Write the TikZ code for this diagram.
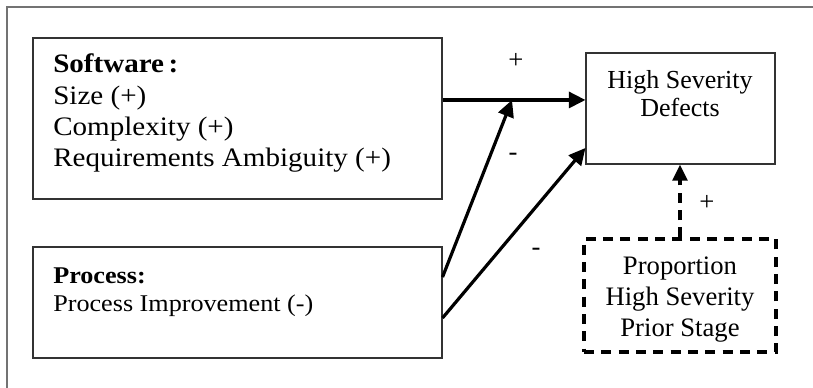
\documentclass[tikz,border=0pt]{standalone}
\usepackage{fontspec}
\setmainfont{Liberation Serif}
\newfontfamily\widefont{Liberation Serif}[FakeStretch=1.09]
\usetikzlibrary{arrows.meta,calc}

\tikzset{
  box/.style={draw=black!80, line width=0.8pt, rectangle, inner sep=0pt},
  dashbox/.style={draw=black, line width=2.4pt, dash pattern=on 7.5pt off 5.5pt, rectangle, inner sep=0pt},
  link/.style={line width=2.4pt, -{Triangle[length=12.5pt, width=12pt]}},
  dashlink/.style={line width=2.4pt, dash pattern=on 7.5pt off 5.5pt,
    -{Triangle[length=12pt, width=11pt]}},
  sign/.style={font=\fontsize{20}{24}\selectfont, inner sep=0pt},
  % multi-line nodes are anchored at the baseline of their last line
  leftlines/.style={align=left, anchor=base west, inner sep=0pt},
  midlines/.style={align=center, anchor=base, inner sep=0pt},
}

\begin{document}
\begin{tikzpicture}[x=0.75pt, y=-0.75pt]
  \useasboundingbox (0,0) rectangle (813,388);

  % frame along the top and left edges
  \draw[black!55, line width=1.1pt] (813,7) -- (7,7) -- (7,388);

  % boxes
  \node[box, minimum width=306.75pt, minimum height=120.75pt] (sw) at (237.5,118.5) {};
  \node[box, minimum width=306.75pt, minimum height=83.25pt] (proc) at (237.5,302.5) {};
  \node[box, minimum width=141.75pt, minimum height=83.25pt] (hsd) at (680.5,108.5) {};
  \node[dashbox, minimum width=144pt, minimum height=84.75pt] (prop) at (680,295.5) {};

  % box texts
  \node[leftlines, font=\widefont\fontsize{20}{23.5}\selectfont] (swtext) at (53,167)
    {\textbf{Software\,:}\\Size (+)\\Complexity (+)\\Requirements Ambiguity (+)};
  \node[leftlines, font=\widefont\fontsize{18}{21}\selectfont] (proctext) at (53,311)
    {\textbf{Process:}\\Process Improvement (-)};
  \node[midlines, font=\fontsize{19.5}{21}\selectfont] (hsdtext) at (680,117)
    {High Severity\\Defects};
  \node[midlines, font=\fontsize{20}{22.9}\selectfont] (proptext) at (680,336)
    {Proportion\\High Severity\\Prior Stage};

  % connectors
  \coordinate (join) at (512,100);
  \draw[link] ([yshift=6.4pt]sw.east |- hsd.west) -- ([yshift=6.4pt]hsd.west);
  \draw[link] ([yshift=19.1pt]proc.east) -- (join);
  \draw[link] ([yshift=-11.6pt]proc.east) -- ([yshift=-29.6pt]hsd.west);
  \draw[dashlink] (prop.north) -- (prop.north |- hsd.south);

  % signs
  \node[sign] (s1) at (516,61) {+};
  \node[sign] (s2) at (513,157) {-};
  \node[sign] (s3) at (536,252) {-};
  \node[sign] (s4) at (707,203) {+};
\end{tikzpicture}
\end{document}
